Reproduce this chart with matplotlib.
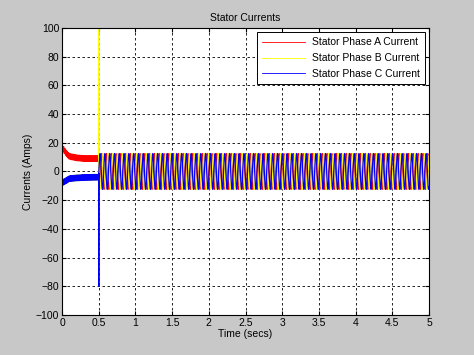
import numpy as np
import matplotlib
matplotlib.use("Agg")
import matplotlib.pyplot as plt

# values
switch_time = 0.5            # breaker closes (s)
end_time = 5.0
pre_times = [0.0, 0.05, 0.1, 0.2, 0.3, 0.5]
pre_a = [17.0, 13.0, 10.5, 9.5, 9.0, 9.0]     # phase A dc level before switch
pre_c = [-8.0, -6.5, -5.0, -4.5, -4.2, -4.0]  # phase C dc level before switch
pre_ripple = 2.0             # thickness of the pre-switch band
spike_b = 100.0              # phase B spike at switch
spike_c = -80.0              # phase C spike at switch
amplitude = 12.5             # steady oscillation amplitude
freq = 15.3                  # visible oscillation rate (Hz)

labels = ["Stator Phase A Current", "Stator Phase B Current", "Stator Phase C Current"]
colors = ["#ff0000", "#ffff00", "#0000ff"]

# build the waveforms
t = np.linspace(0, end_time, 20000)
pre = t < switch_time
ripple = pre_ripple * np.sin(2 * np.pi * 60 * t)
dc_a = np.interp(t, pre_times, pre_a)
dc_c = np.interp(t, pre_times, pre_c)

ia = np.where(pre, dc_a + ripple, amplitude * np.sin(2 * np.pi * freq * t))
ib = np.where(pre, dc_c + ripple, amplitude * np.sin(2 * np.pi * freq * t - 2 * np.pi / 3))
ic = np.where(pre, dc_c - ripple, amplitude * np.sin(2 * np.pi * freq * t + 2 * np.pi / 3))
k = np.searchsorted(t, switch_time)
ib[k] = spike_b
ic[k + 1] = spike_c

plt.rcParams["font.family"] = ["Liberation Sans", "DejaVu Sans"]
plt.rcParams["font.size"] = 7.5

fig = plt.figure(figsize=(4.74, 3.55), dpi=100, facecolor="#c8c8c8")
ax = fig.add_axes([0.131, 0.113, 0.774, 0.808])
ax.set_facecolor("white")

for y, lab, col in zip([ia, ib, ic], labels, colors):
    ax.plot(t, y, color=col, lw=0.9, label=lab)

ax.set_xlim(0, 5)
ax.set_ylim(-100, 100)
ax.set_xticks(np.arange(0, 5.01, 0.5))
ax.set_xticklabels(["0", "0.5", "1", "1.5", "2", "2.5", "3", "3.5", "4", "4.5", "5"])
ax.set_yticks(np.arange(-100, 101, 20))
ax.grid(True, color="black", linestyle=(0, (3, 3)), lw=0.6)
ax.tick_params(direction="in", length=3, top=True, right=True, pad=2)
for s in ax.spines.values():
    s.set_linewidth(0.8)

ax.set_title("Stator Currents", pad=5, fontsize=7.5)
ax.set_xlabel("Time (secs)", labelpad=1)
ax.set_ylabel("Currents (Amps)", labelpad=2)

leg = ax.legend(loc="upper right", fancybox=False, edgecolor="black",
                framealpha=1, handlelength=4.2, handletextpad=0.6, borderpad=0.5,
                labelspacing=0.55, borderaxespad=0.4)
leg.get_frame().set_linewidth(0.7)
for h in leg.get_lines():
    h.set_linewidth(0.6)

fig.savefig("out.png", dpi=100, facecolor=fig.get_facecolor())
